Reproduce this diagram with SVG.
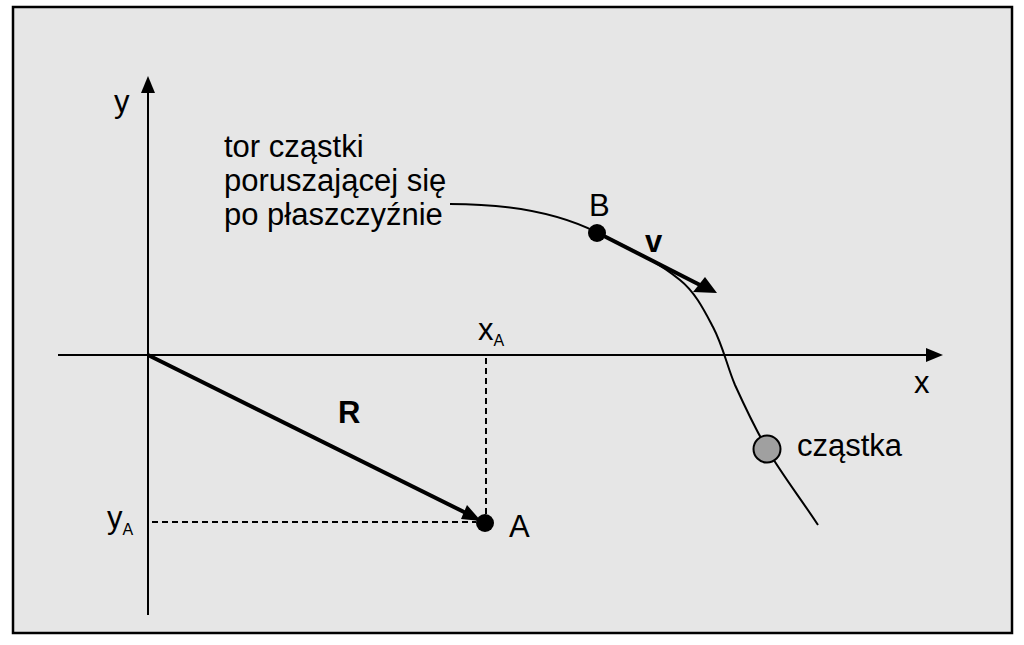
<svg xmlns="http://www.w3.org/2000/svg" width="1024" height="645" viewBox="0 0 1024 645">
<style>
text{font-family:"Liberation Sans",Arial,sans-serif;fill:#000}
.lbl{font-size:31px}
.sub{font-size:16px}
.bold{font-weight:bold}
.ax{stroke:#000;stroke-width:2;fill:none}
.dash{stroke:#000;stroke-width:2;stroke-dasharray:6 4;fill:none}
.vec{stroke:#000;stroke-width:4;fill:none}
</style>
<rect x="0" y="0" width="1024" height="645" fill="#fff"/>
<rect x="13" y="7" width="999" height="626" fill="#e6e6e6" stroke="#000" stroke-width="2.5"/>
<g id="axes">
<line class="ax" x1="148" y1="90" x2="148" y2="615"/>
<polygon points="148,76 141,93 155,93" fill="#000"/>
<line class="ax" x1="58" y1="355" x2="928" y2="355"/>
<polygon points="943,355 926,348 926,362" fill="#000"/>
<text id="label-y" class="lbl" x="114" y="112">y</text>
<text id="label-x" class="lbl" x="914" y="393">x</text>
</g>
<g id="connectors">
<line class="dash" x1="486" y1="358" x2="486" y2="514"/>
<line class="dash" x1="152" y1="522" x2="476" y2="522"/>
<path id="trajectory" d="M450,204 C500,204 553,210 598,233 C626,247 656,260 680,280 C695,292 704,310 713,327 C723,346 727,366 735,385 C745,407 755,428 767,449 C783,476 801,499 818,525" fill="none" stroke="#000" stroke-width="2"/>
<line class="vec" x1="148" y1="355" x2="466" y2="513"/>
<polygon points="481,521 461,519 467,505" fill="#000"/>
<line class="vec" x1="598" y1="233" x2="702" y2="286"/>
<polygon points="717,293 693,292 705,277" fill="#000"/>
</g>
<g id="node-A">
<circle cx="485" cy="523" r="9" fill="#000"/>
<text class="lbl" x="509" y="537">A</text>
</g>
<g id="node-B">
<circle cx="597" cy="233" r="9" fill="#000"/>
<text class="lbl" x="589" y="216">B</text>
</g>
<g id="node-particle">
<circle cx="767" cy="449" r="13.5" fill="#a0a0a0" stroke="#000" stroke-width="2"/>
<text class="lbl" x="797" y="456">cząstka</text>
</g>
<g id="labels">
<text class="lbl" x="224" y="157">tor cząstki</text>
<text class="lbl" x="224" y="191">poruszającej się</text>
<text class="lbl" x="224" y="225">po płaszczyźnie</text>
<text class="lbl bold" x="645" y="252">v</text>
<text class="lbl bold" x="338" y="423">R</text>
<text class="lbl" x="478" y="340">x<tspan class="sub" dy="6">A</tspan></text>
<text class="lbl" x="107" y="528">y<tspan class="sub" dy="7">A</tspan></text>
</g>
</svg>
